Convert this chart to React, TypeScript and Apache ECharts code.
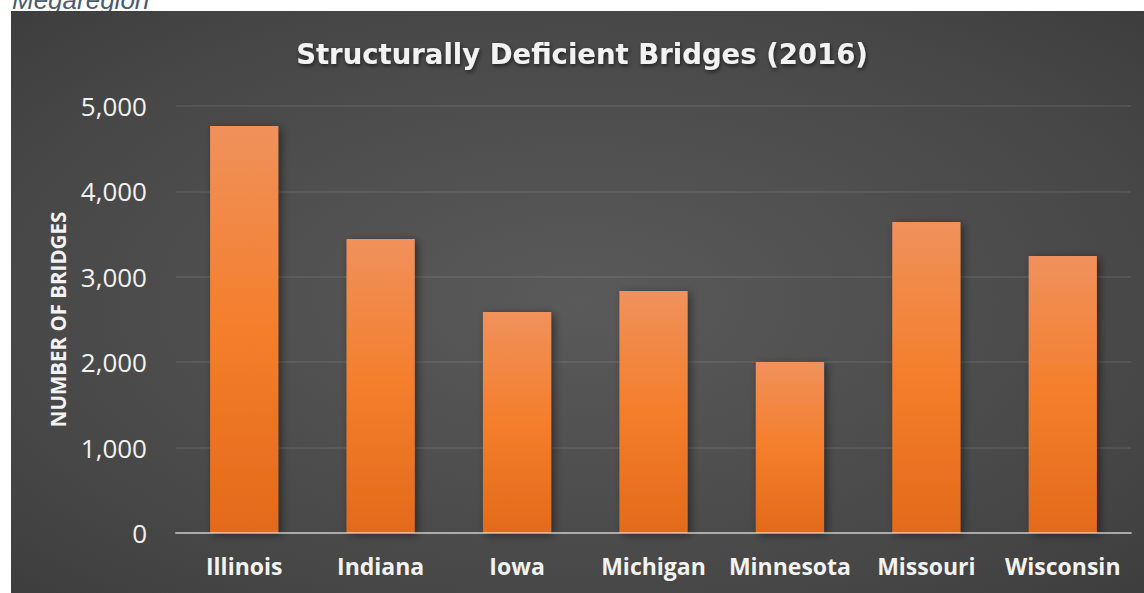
import React, { useEffect, useRef } from "react";
import * as echarts from "echarts";

const categories = ["Illinois", "Indiana", "Iowa", "Michigan", "Minnesota", "Missouri", "Wisconsin"];
const bridgeCounts = [4766, 3443, 2588, 2834, 2002, 3642, 3244];
const yTicks = [0, 1000, 2000, 3000, 4000, 5000];
const titleText = "Structurally Deficient Bridges (2016)";
const yAxisName = "NUMBER OF BRIDGES";
const headerText = "Megaregion";

export default function App() {
  const ref = useRef<HTMLDivElement>(null);
  useEffect(() => {
    if (!ref.current) return;
    const chart = echarts.init(ref.current, undefined, { renderer: "svg" });
    chart.setOption({
      animation: false,
      backgroundColor: "#ffffff",
      graphic: [
        {
          type: "text",
          z: -20,
          x: 12,
          y: 13,
          style: {
            text: headerText,
            font: "italic 26px 'Liberation Sans', Arial, sans-serif",
            fill: "#4a5a70",
            verticalAlign: "bottom",
          },
        },
        {
          type: "rect",
          z: -10,
          silent: true,
          shape: { x: 11, y: 11, width: 1133, height: 582 },
          style: {
            fill: new echarts.graphic.RadialGradient(0.5, 0.5, 1.15, [
              { offset: 0, color: "#5a5a5a" },
              { offset: 0.45, color: "#474747" },
              { offset: 0.85, color: "#303030" },
              { offset: 1, color: "#262626" },
            ]),
          },
        },
      ],
      title: {
        text: titleText,
        left: 577,
        top: 35,
        textAlign: "center",
        textStyle: {
          fontFamily: "'DejaVu Sans', sans-serif",
          fontWeight: "bold",
          fontSize: 27.5,
          color: "#f2f2f2",
          textShadowColor: "rgba(0,0,0,0.6)",
          textShadowBlur: 4,
          textShadowOffsetX: 1,
          textShadowOffsetY: 2,
        },
      },
      grid: { left: 176, right: 13, top: 106, bottom: 60 },
      xAxis: {
        type: "category",
        data: categories,
        z: 3,
        axisLine: { show: true, lineStyle: { color: "rgba(255,255,255,0.5)", width: 2 } },
        axisTick: { show: false },
        axisLabel: {
          interval: 0,
          color: "#f2f2f2",
          fontFamily: "'Open Sans', sans-serif",
          fontWeight: "bold",
          fontSize: 23,
          margin: 21,
        },
      },
      yAxis: {
        type: "value",
        min: 0,
        max: yTicks[yTicks.length - 1],
        interval: 1000,
        name: yAxisName,
        nameLocation: "middle",
        nameRotate: 90,
        nameGap: 108,
        nameTextStyle: {
          color: "#f2f2f2",
          fontFamily: "'Open Sans', sans-serif",
          fontWeight: "bold",
          fontSize: 20.5,
        },
        axisLine: { show: false },
        axisTick: { show: false },
        splitLine: { lineStyle: { color: "rgba(255,255,255,0.1)", width: 1.5 } },
        axisLabel: {
          color: "#f2f2f2",
          fontFamily: "'Open Sans', sans-serif",
          fontSize: 26,
          margin: 29,
          formatter: (v: number) => v.toLocaleString("en-US"),
        },
      },
      series: [
        {
          type: "bar",
          data: bridgeCounts,
          barWidth: "50%",
          z: 2,
          itemStyle: {
            color: new echarts.graphic.LinearGradient(0, 0, 0, 1, [
              { offset: 0, color: "#f0915c" },
              { offset: 0.5, color: "#f47e2b" },
              { offset: 1, color: "#e36a1a" },
            ]),
            shadowColor: "rgba(0,0,0,0.45)",
            shadowBlur: 8,
            shadowOffsetX: 3,
            shadowOffsetY: 2,
          },
        },
      ],
    });
    return () => chart.dispose();
  }, []);
  return (
    <div
      ref={ref}
      style={{ position: "absolute", left: 0, top: 0, width: 1144, height: 593 }}
    />
  );
}
